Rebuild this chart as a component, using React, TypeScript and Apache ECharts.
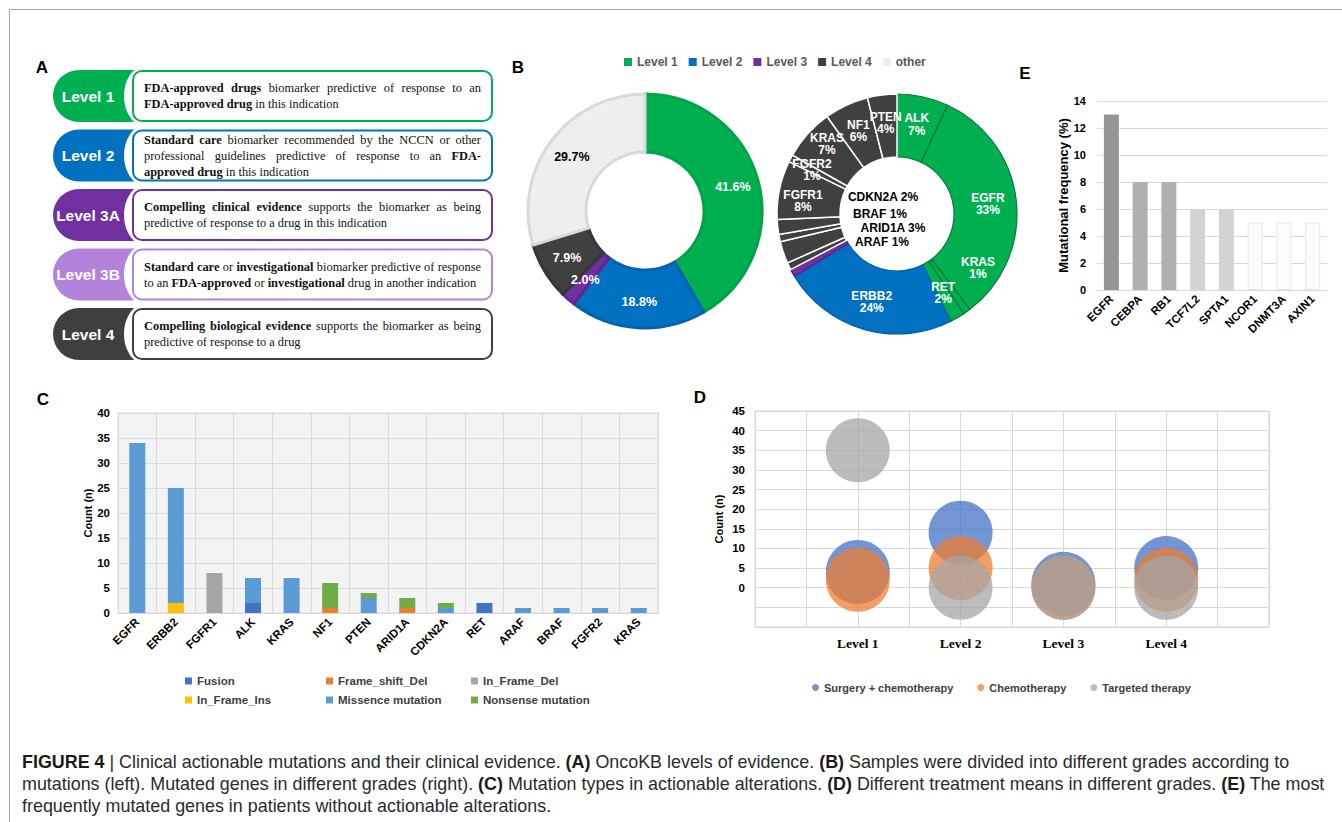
import React, { useEffect, useRef } from 'react';
import * as echarts from 'echarts';

const SANS = 'Arial, "Liberation Sans", Helvetica, sans-serif';
const SERIF = '"Liberation Serif", "Times New Roman", Times, serif';
const CAPTION = '"Liberation Sans", Arial, sans-serif';

// ---------- Panel A : OncoKB levels ----------
const evidenceLevels = ['Level 1', 'Level 2', 'Level 3A', 'Level 3B', 'Level 4'];
const evidenceColors = ['#00B050', '#0070C0', '#7030A0', '#B383DB', '#3F3F3F'];
const evidenceTexts = [
  '{b|FDA-approved drugs} biomarker predictive of response to an\n{b|FDA-approved drug} in this indication',
  '{b|Standard care} biomarker recommended by the NCCN or other\nprofessional guidelines predictive of response to an {b|FDA-}\n{b|approved drug} in this indication',
  '{b|Compelling clinical evidence} supports the biomarker as being\npredictive of response to a drug in this indication',
  '{b|Standard care} or {b|investigational} biomarker predictive of response\nto an {b|FDA-approved} or {b|investigational} drug in another indication',
  '{b|Compelling biological evidence} supports the biomarker as being\npredictive of response to a drug',
];

// ---------- Panel B : grades ----------
const gradeNames = ['Level 1', 'Level 2', 'Level 3', 'Level 4', 'other'];
const gradeValues = [41.6, 18.8, 2.0, 7.9, 29.7];
const gradeColors = ['#00B050', '#0070C0', '#7030A0', '#404040', '#EEEEEE'];
const gradeBorders = ['#00A347', '#0063B2', '#62288F', '#363636', '#D9D9D9'];

const geneNames = ['ALK', 'EGFR', 'KRAS', 'RET', 'ERBB2', '', 'ARAF', 'ARID1A', 'BRAF', 'CDKN2A', 'FGFR1', 'FGFR2', 'KRAS', 'NF1', 'PTEN'];
const geneValues = [7, 33, 1, 2, 24, 1, 1, 3, 1, 2, 8, 1, 7, 6, 4];
const geneLevels = [1, 1, 1, 1, 2, 3, 4, 4, 4, 4, 4, 4, 4, 4, 4];
// label spots for crowded slices: [x, y, withLeaderLine]
const geneLabelSpots: (null | [number, number, boolean])[] = [
  null, null, [978, 268, true], null, null, null,
  [882, 242, true], [893, 228, true], [880, 214, true], [883, 197, true],
  [803, 201, false], [812, 170, false], [827, 144, false], null, null,
];

// ---------- Panel C : mutation types ----------
const mutGenes = ['EGFR', 'ERBB2', 'FGFR1', 'ALK', 'KRAS', 'NF1', 'PTEN', 'ARID1A', 'CDKN2A', 'RET', 'ARAF', 'BRAF', 'FGFR2', 'KRAS'];
const mutTypes = ['Fusion', 'Frame_shift_Del', 'In_Frame_Del', 'In_Frame_Ins', 'Missence mutation', 'Nonsense mutation'];
const mutColors = ['#4472C4', '#ED7D31', '#A5A5A5', '#FFC000', '#5B9BD5', '#70AD47'];
const fusion = [0, 0, 0, 2, 0, 0, 0, 0, 0, 2, 0, 0, 0, 0];
const frameShiftDel = [0, 0, 0, 0, 0, 1, 0, 1, 0, 0, 0, 0, 0, 0];
const inFrameDel = [0, 0, 8, 0, 0, 0, 0, 0, 0, 0, 0, 0, 0, 0];
const inFrameIns = [0, 2, 0, 0, 0, 0, 0, 0, 0, 0, 0, 0, 0, 0];
const missence = [34, 23, 0, 5, 7, 0, 3, 0, 1, 0, 1, 1, 1, 1];
const nonsense = [0, 0, 0, 0, 0, 5, 1, 2, 1, 0, 0, 0, 0, 0];
const mutSeries = [fusion, frameShiftDel, inFrameDel, inFrameIns, missence, nonsense];

// ---------- Panel D : treatments ----------
const treatLevels = ['Level 1', 'Level 2', 'Level 3', 'Level 4'];
const treatNames = ['Surgery + chemotherapy', 'Chemotherapy', 'Targeted therapy'];
const treatColors = ['#4472C4', '#ED7D31', '#A5A5A5'];
const surgeryChemo = [4, 14, 1, 5];
const chemo = [2, 5, 0, 2];
const targeted = [35, 0, 0, 0];
const treatSeries = [surgeryChemo, chemo, targeted];

// ---------- Panel E : frequencies ----------
const freqGenes = ['EGFR', 'CEBPA', 'RB1', 'TCF7L2', 'SPTA1', 'NCOR1', 'DNMT3A', 'AXIN1'];
const freqValues = [13, 8, 8, 6, 6, 5, 5, 5];
const freqColors = ['#959595', '#B0B0B0', '#B0B0B0', '#D3D3D3', '#D3D3D3', '#FBFBFB', '#FBFBFB', '#FBFBFB'];

// ---------- Caption ----------
const captionText =
  '{b|FIGURE 4} | Clinical actionable mutations and their clinical evidence. {b|(A)} OncoKB levels of evidence. {b|(B)} Samples were divided into different grades according to\n' +
  'mutations (left). Mutated genes in different grades (right). {b|(C)} Mutation types in actionable alterations. {b|(D)} Different treatment means in different grades. {b|(E)} The most\n' +
  'frequently mutated genes in patients without actionable alterations.';

const RIGHT_CENTER = [897, 214];
const RIGHT_RADIUS = [57, 120];

const BOX_FONT = 12.4;
const BOX_LH = 16;
const BOX_LEFT = 144;
const BOX_RIGHT = 481;

function parseWords(line: string) {
  const words: { w: string; b: boolean }[] = [];
  const re = /\{b\|([^}]*)\}|([^{]+)/g;
  let m: RegExpExecArray | null;
  while ((m = re.exec(line))) {
    const bold = m[1] != null;
    const txt = bold ? m[1] : m[2];
    txt.split(' ').forEach((w) => { if (w) words.push({ w, b: bold }); });
  }
  return words;
}

function buildOption(): any {
  const canvas = document.createElement('canvas');
  const ctx = canvas.getContext('2d') as CanvasRenderingContext2D;
  const measure = (t: string, bold: boolean) => {
    ctx.font = `${bold ? 'bold ' : ''}${BOX_FONT}px ${SERIF}`;
    return ctx.measureText(t).width;
  };

  const graphics: any[] = [];
  graphics.push({
    type: 'rect', silent: true, z: -10,
    shape: { x: 9.5, y: 9.5, width: 1400, height: 900 },
    style: { fill: 'none', stroke: '#A8A8A8', lineWidth: 1 },
  });
  const letters: [string, number, number][] = [['A', 42, 67], ['B', 518, 67], ['C', 43, 399], ['D', 700, 397], ['E', 1025, 73]];
  letters.forEach(([t, x, y]) => graphics.push({
    type: 'text', x, y, silent: true,
    style: { text: t, fontFamily: SANS, fontWeight: 'bold', fontSize: 17, fill: '#000', align: 'center', verticalAlign: 'middle' },
  }));

  evidenceLevels.forEach((lvl, i) => {
    const top = 70 + i * 59.5;
    const c = evidenceColors[i];
    graphics.push({ type: 'rect', silent: true, shape: { x: 53, y: top, width: 95, height: 52, r: [26, 0, 0, 26] }, style: { fill: c } });
    graphics.push({ type: 'ellipse', silent: true, shape: { cx: 145, cy: top + 26, rx: 21, ry: 30 }, style: { fill: '#fff' } });
    graphics.push({
      type: 'rect', silent: true,
      shape: { x: 133, y: top + 1, width: 359, height: 50, r: 9 },
      style: { fill: '#fff', stroke: c, lineWidth: 2 },
    });
    graphics.push({
      type: 'text', silent: true, x: 88, y: top + 26,
      style: { text: lvl, fill: '#fff', fontFamily: SANS, fontWeight: 'bold', fontSize: 15.5, align: 'center', verticalAlign: 'middle' },
    });
    // justified paragraph
    const lines = evidenceTexts[i].split('\n');
    lines.forEach((line, j) => {
      const y = top + 26 + (j - (lines.length - 1) / 2) * BOX_LH;
      const words = parseWords(line);
      const widths = words.map((w) => measure(w.w, w.b));
      const total = widths.reduce((a, b) => a + b, 0);
      const last = j === lines.length - 1;
      const gap = last || words.length < 2 ? measure(' ', false) : (BOX_RIGHT - BOX_LEFT - total) / (words.length - 1);
      let x = BOX_LEFT;
      words.forEach((w, k) => {
        graphics.push({
          type: 'text', silent: true, x, y,
          style: {
            text: w.w, fill: '#111', fontFamily: SERIF, fontSize: BOX_FONT, fontWeight: w.b ? 'bold' : 'normal',
            align: 'left', verticalAlign: 'middle',
          },
        });
        x += widths[k] + gap;
      });
    });
  });

  graphics.push({
    type: 'text', silent: true, x: 22, y: 751,
    style: {
      text: captionText, fill: '#2B2B2B', fontFamily: CAPTION, fontSize: 17.9, lineHeight: 22,
      align: 'left', verticalAlign: 'top',
      rich: { b: { fontFamily: CAPTION, fontSize: 17.9, fontWeight: 'bold', lineHeight: 22, fill: '#1A1A1A' } },
    },
  });

  const geneTotal = geneValues.reduce((a, b) => a + b, 0);
  const midAngle = (i: number) => {
    let cum = 0;
    for (let k = 0; k < i; k++) cum += geneValues[k];
    return ((cum + geneValues[i] / 2) / geneTotal) * Math.PI * 2;
  };
  const levelFill = ['#00B050', '#0070C0', '#7030A0', '#404040'];
  const levelBorder = ['#0A7A38', '#005DA8', '#5A2088', '#FFFFFF'];

  const boldAxis = { fontFamily: SANS, fontWeight: 'bold', fontSize: 11, color: '#000' };
  const legendText = { fontFamily: SANS, fontWeight: 'bold', fontSize: 11.5, color: '#404040' };

  return {
    animation: false,
    backgroundColor: '#fff',
    graphic: graphics,
    legend: [
      {
        data: gradeNames, left: 619, top: 51, itemWidth: 8, itemHeight: 8, itemGap: 11,
        icon: 'rect', itemStyle: { borderWidth: 0 },
        textStyle: { fontFamily: SANS, fontWeight: 'bold', fontSize: 12, color: '#595959' },
      },
      {
        data: [mutTypes[0], mutTypes[3]], left: 180, top: 670, orient: 'vertical', itemGap: 7,
        itemWidth: 7, itemHeight: 7, icon: 'rect', textStyle: legendText,
      },
      {
        data: [mutTypes[1], mutTypes[4]], left: 321, top: 670, orient: 'vertical', itemGap: 7,
        itemWidth: 7, itemHeight: 7, icon: 'rect', textStyle: legendText,
      },
      {
        data: [mutTypes[2], mutTypes[5]], left: 466, top: 670, orient: 'vertical', itemGap: 7,
        itemWidth: 7, itemHeight: 7, icon: 'rect', textStyle: legendText,
      },
      {
        data: treatNames, left: 807, top: 677, itemGap: 24, itemWidth: 7, itemHeight: 7, icon: 'circle',
        textStyle: { ...legendText, fontSize: 11 },
      },
    ],
    grid: [
      { left: 1097, top: 101, width: 230, height: 189 },
      { left: 118, top: 413, width: 540, height: 200, show: true, backgroundColor: '#F3F3F3', borderColor: '#D9D9D9', borderWidth: 1 },
      { left: 755, top: 411, width: 514, height: 216, show: true, borderColor: '#D9D9D9', borderWidth: 1 },
    ],
    xAxis: [
      {
        type: 'category', gridIndex: 0, data: freqGenes,
        axisTick: { show: false }, axisLine: { lineStyle: { color: '#D9D9D9' } },
        axisLabel: { ...boldAxis, fontSize: 11.5, rotate: 45, interval: 0, margin: 7 },
      },
      {
        type: 'category', gridIndex: 1, data: mutGenes,
        axisTick: { show: false }, axisLine: { show: false },
        splitLine: { show: true, interval: 0, lineStyle: { color: '#D9D9D9' } },
        axisLabel: { ...boldAxis, fontSize: 11.5, rotate: 45, interval: 0, margin: 7 },
      },
      {
        type: 'value', gridIndex: 2, min: 0, max: 5, interval: 0.5,
        axisTick: { show: false }, axisLine: { show: false },
        splitLine: { show: true, lineStyle: { color: '#D9D9D9' } },
        axisLabel: {
          fontFamily: SERIF, fontWeight: 'bold', fontSize: 13.5, color: '#000', margin: 9, showMinLabel: true, showMaxLabel: true,
          formatter: (v: number) => (Number.isInteger(v) && v >= 1 && v <= treatLevels.length ? treatLevels[v - 1] : ''),
        },
      },
    ],
    yAxis: [
      {
        type: 'value', gridIndex: 0, min: 0, max: 14, interval: 2,
        name: 'Mutational frequency (%)', nameLocation: 'middle', nameGap: 26,
        nameTextStyle: { fontFamily: SANS, fontWeight: 'bold', fontSize: 13, color: '#000' },
        axisLine: { show: false }, axisTick: { show: false },
        splitLine: { lineStyle: { color: '#D9D9D9' } },
        axisLabel: { ...boldAxis, margin: 11 },
      },
      {
        type: 'value', gridIndex: 1, min: 0, max: 40, interval: 5,
        name: 'Count (n)', nameLocation: 'middle', nameGap: 24,
        nameTextStyle: { fontFamily: SANS, fontWeight: 'bold', fontSize: 11, color: '#000' },
        axisLine: { show: false }, axisTick: { show: false },
        splitLine: { lineStyle: { color: '#D9D9D9' } },
        axisLabel: { ...boldAxis, fontSize: 11.5, margin: 8 },
      },
      {
        type: 'value', gridIndex: 2, min: -10, max: 45, interval: 5,
        name: 'Count (n)', nameLocation: 'middle', nameGap: 31,
        nameTextStyle: { fontFamily: SANS, fontWeight: 'bold', fontSize: 11, color: '#000' },
        axisLine: { show: false }, axisTick: { show: false },
        splitLine: { lineStyle: { color: '#D9D9D9' } },
        axisLabel: { ...boldAxis, fontSize: 11.5, margin: 10, formatter: (v: number) => (v >= 0 ? String(v) : '') },
      },
    ],
    series: [
      {
        type: 'pie', name: 'Grades', center: [645, 211], radius: [59, 117], startAngle: 90, clockwise: true,
        avoidLabelOverlap: false, silent: true,
        label: {
          show: true, position: 'inside', color: '#fff', fontFamily: SANS, fontWeight: 'bold', fontSize: 12.5,
          formatter: (p: any) => `${Number(p.value).toFixed(1)}%`,
        },
        labelLine: { show: false },
        data: gradeNames.map((n, i) => ({
          name: n, value: gradeValues[i],
          itemStyle: { color: gradeColors[i], borderColor: gradeBorders[i], borderWidth: 3 },
          label: { color: i === 4 ? '#000' : '#fff' },
        })),
      },
      {
        type: 'pie', name: 'Genes', center: RIGHT_CENTER, radius: RIGHT_RADIUS, startAngle: 90, clockwise: true,
        avoidLabelOverlap: false, silent: true,
        label: {
          show: true, position: 'inside', color: '#fff', fontFamily: SANS, fontWeight: 'bold', fontSize: 12, lineHeight: 12.5,
          formatter: (p: any) => {
            if (!geneNames[p.dataIndex]) return '';
            const spot = geneLabelSpots[p.dataIndex];
            if (spot && spot[2] && geneLevels[p.dataIndex] === 4) return `${p.name} ${p.value}%`;
            return `${p.name}\n${p.value}%`;
          },
        },
        labelLine: { show: false },
        labelLayout: (params: any) => {
          const i = params.dataIndex;
          const spot = geneLabelSpots[i];
          if (!spot) return {};
          if (!spot[2]) return { x: spot[0], y: spot[1], align: 'center', verticalAlign: 'middle' };
          const a = midAngle(i);
          const R = geneLevels[i] === 4 ? 100 : 92;
          const p0 = [RIGHT_CENTER[0] + R * Math.sin(a), RIGHT_CENTER[1] - R * Math.cos(a)];
          const end = geneLevels[i] === 4 ? [spot[0] - 44, spot[1] + 1] : [spot[0] - 22, spot[1] + 2];
          const mid = [(p0[0] + end[0]) / 2, (p0[1] + end[1]) / 2];
          return { x: spot[0], y: spot[1], align: 'center', verticalAlign: 'middle', labelLinePoints: [p0, mid, end] };
        },
        data: geneNames.map((n, i) => {
          const lv = geneLevels[i];
          const spot = geneLabelSpots[i];
          const item: any = {
            name: n, value: geneValues[i],
            itemStyle: { color: levelFill[lv - 1], borderColor: levelBorder[lv - 1], borderWidth: lv === 4 ? 1.5 : 1.2 },
          };
          if (!n) item.label = { show: false };
          if (spot && spot[2]) {
            item.label = { position: 'outside', color: lv === 4 ? '#000' : '#fff' };
            item.labelLine = { show: true, length: 5, length2: 5, lineStyle: { color: '#fff', width: 1 } };
          }
          return item;
        }),
      },
      {
        type: 'bar', name: 'Mutational frequency', xAxisIndex: 0, yAxisIndex: 0, barWidth: 15, silent: true,
        data: freqValues.map((v, i) => ({
          value: v,
          itemStyle: { color: freqColors[i], borderColor: i >= 5 ? '#E8E8E8' : freqColors[i], borderWidth: i >= 5 ? 1 : 0 },
        })),
      },
      ...mutTypes.map((t, k) => ({
        type: 'bar', name: t, stack: 'mut', xAxisIndex: 1, yAxisIndex: 1, barWidth: 16, silent: true,
        itemStyle: { color: mutColors[k] },
        data: mutSeries[k],
      })),
      ...treatNames.map((t, k) => ({
        type: 'scatter', name: t, xAxisIndex: 2, yAxisIndex: 2, symbolSize: 64, silent: true,
        itemStyle: { color: treatColors[k], opacity: 0.75 },
        data: treatSeries[k].map((v, i) => [i + 1, v]),
      })),
    ],
  };
}

export default function App() {
  const ref = useRef<HTMLDivElement>(null);
  useEffect(() => {
    if (!ref.current) return;
    const chart = echarts.init(ref.current, undefined, { renderer: 'svg' });
    chart.setOption(buildOption());
    return () => chart.dispose();
  }, []);
  return (
    <div
      ref={ref}
      style={{ position: 'absolute', left: 0, top: 0, width: 1342, height: 822, background: '#fff' }}
    />
  );
}
